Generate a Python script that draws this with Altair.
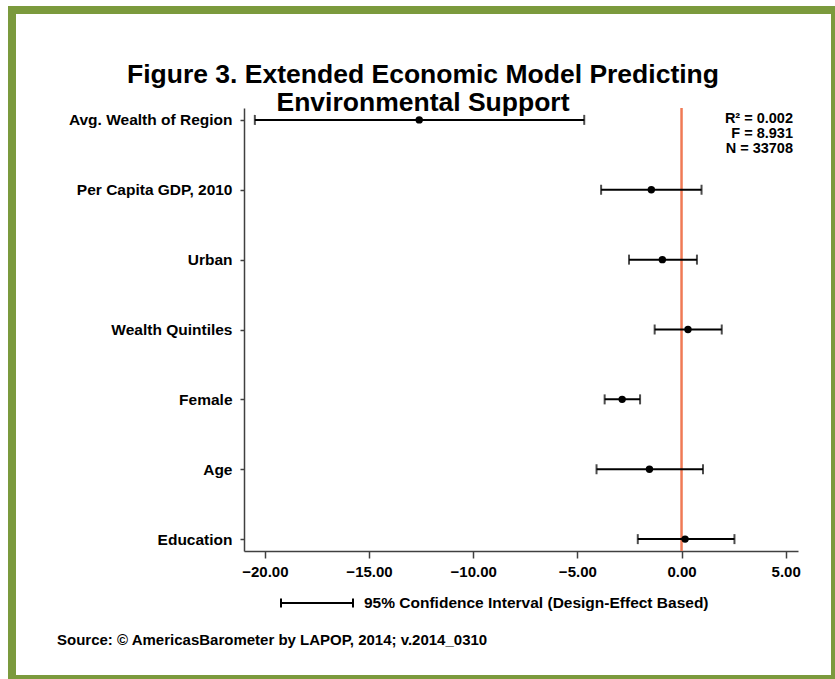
import altair as alt
import pandas as pd

# Coefficient estimates with 95% confidence bounds (design-effect based)
variables = [
    "Avg. Wealth of Region",
    "Per Capita GDP, 2010",
    "Urban",
    "Wealth Quintiles",
    "Female",
    "Age",
    "Education",
]
coef = [-12.59, -1.45, -0.92, 0.31, -2.85, -1.54, 0.17]
ci_low = [-20.48, -3.86, -2.52, -1.29, -3.69, -4.08, -2.10]
ci_high = [-4.67, 0.96, 0.74, 1.93, -1.99, 1.03, 2.54]

x_ticks = [-20, -15, -10, -5, 0, 5]
stats_lines = ["R\u00b2 = 0.002", "F = 8.931", "N = 33708"]
title_lines = ["Figure 3. Extended Economic Model Predicting", "Environmental Support"]
legend_text = "95% Confidence Interval (Design-Effect Based)"
source_text = "Source: \u00a9 AmericasBarometer by LAPOP, 2014; v.2014_0310"

FONT = "Liberation Sans"
GREEN = "#7B9A3D"
RED = "#F07A55"
W, H = 554, 443
LEFT, TOP = 244, 108
SMALL = 15

df = pd.DataFrame({"var": variables, "coef": coef, "lo": ci_low, "hi": ci_high})

x_scale = alt.Scale(domain=[-21.0, 5.59], nice=False, zero=False)
y_scale = alt.Scale(type="point", domain=variables, padding=0.17)

x_enc = alt.X(
    "coef:Q",
    scale=x_scale,
    axis=alt.Axis(
        values=x_ticks, format=".2f", title=None, grid=False,
        tickSize=7, labelPadding=6, labelFontSize=SMALL, labelFontWeight="bold",
        labelColor="black", domainColor="#404040", tickColor="#404040",
        domainWidth=1.5, tickWidth=1.5,
    ),
)
y_axis = alt.Axis(
    title=None, grid=False, tickSize=4, labelPadding=8,
    labelFontSize=15.5, labelFontWeight="bold", labelColor="black",
    domainColor="#404040", tickColor="#404040", domainWidth=1.5, tickWidth=1.5,
)
y_enc = alt.Y("var:N", scale=y_scale, sort=variables, axis=y_axis)


def px(v, origin):
    return alt.value(v - origin)


def label(text, x, y, size=SMALL, align="left", baseline="middle"):
    return alt.Chart(pd.DataFrame({"t": [text]})).mark_text(
        font=FONT, fontSize=size, fontWeight="bold", align=align,
        baseline=baseline, color="black",
    ).encode(text="t:N", x=px(x, LEFT), y=px(y, TOP))


base = alt.Chart(df)

# Frame around the whole figure
frame = alt.Chart(pd.DataFrame({"k": [0]})).mark_rect(
    fillOpacity=0, stroke=GREEN, strokeWidth=8
).encode(x=px(12, LEFT), x2=px(835, LEFT), y=px(10, TOP), y2=px(679, TOP))

zero_line = alt.Chart(pd.DataFrame({"z": [0]})).mark_rule(
    color=RED, strokeWidth=2.5
).encode(x=alt.X("z:Q", scale=x_scale), y=alt.value(0), y2=alt.value(H))

ci_bar = base.mark_rule(color="black", strokeWidth=2).encode(
    x=alt.X("lo:Q", scale=x_scale), x2="hi:Q", y=y_enc,
)
cap_lo = base.mark_tick(color="black", orient="vertical", size=10, thickness=2).encode(
    x=alt.X("lo:Q", scale=x_scale), y=y_enc,
)
cap_hi = base.mark_tick(color="black", orient="vertical", size=10, thickness=2).encode(
    x=alt.X("hi:Q", scale=x_scale), y=y_enc,
)
points = base.mark_circle(color="black", opacity=1, size=55).encode(x=x_enc, y=y_enc)

stats = [
    label(t, 793, yy, size=14.5, align="right")
    for t, yy in zip(stats_lines, [118.5, 133.5, 148.5])
]

title1 = label(title_lines[0], 423, 83, size=26.5, align="center", baseline="alphabetic")
title2 = label(title_lines[1], 423, 111, size=26.5, align="center", baseline="alphabetic")

# Confidence-interval key below the axis
KEY_Y = 603
key_bar = alt.Chart(pd.DataFrame({"k": [0]})).mark_rule(color="black", strokeWidth=2).encode(
    x=px(281, LEFT), x2=px(353, LEFT), y=px(KEY_Y, TOP),
)
key_caps = alt.Chart(pd.DataFrame({"p": [281 - LEFT, 353 - LEFT]})).mark_rule(
    color="black", strokeWidth=2
).encode(
    x=alt.X("p:Q", scale=None), y=px(KEY_Y - 4.5, TOP), y2=px(KEY_Y + 4.5, TOP),
)
key_text = label(legend_text, 364, KEY_Y, size=15.5)

source = label(source_text, 57, 640)

chart = alt.layer(
    frame, zero_line, ci_bar, cap_lo, cap_hi, points,
    *stats, title1, title2, key_bar, key_caps, key_text, source,
).properties(
    width=W, height=H,
    autosize=alt.AutoSizeParams(type="none"),
    padding={"left": LEFT, "top": TOP, "right": 835 - LEFT - W, "bottom": 679 - TOP - H},
    background="white",
).configure(font=FONT).configure_view(strokeWidth=0, stroke="transparent")

chart.save("out.html", embed_options={"renderer": "svg", "actions": False})
